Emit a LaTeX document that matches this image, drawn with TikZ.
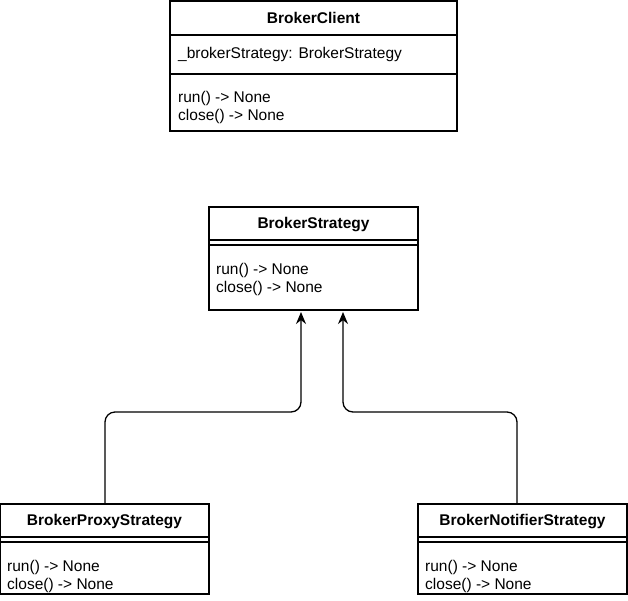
\documentclass[tikz,border=0pt]{standalone}
\usepackage{fontspec}
\setmainfont{Liberation Sans}
\usetikzlibrary{arrows.meta}
\begin{document}
\begin{tikzpicture}[x=1pt,y=-1pt,
  box/.style={draw,line width=1.3pt,fill=white},
  sep/.style={line width=1.3pt},
  title/.style={font=\fontsize{15.5}{18}\selectfont\bfseries,inner sep=0pt},
  member/.style={font=\fontsize{15.5}{18}\selectfont,align=left,anchor=north west,inner sep=0pt},
  conn/.style={line width=1.3pt,rounded corners=10pt,-{Stealth[length=12pt,width=10pt]}}]
\useasboundingbox (0,0) rectangle (628,600);
% BrokerClient
\draw[box] (170,1) rectangle (457,131);
\draw[sep] (170,35) -- (457,35);
\draw[sep] (170,74) -- (457,74);
\node[title] (bc) at (313.5,18) {BrokerClient};
\node[member] (bcattr) at (178,47) {\_brokerStrategy: BrokerStrategy};
\node[member] (bcm) at (178,91) {run() -> None\\close() -> None};
% BrokerStrategy
\draw[box] (209,207) rectangle (418,310);
\draw[sep] (209,240) -- (418,240);
\draw[sep] (209,245) -- (418,245);
\node[title] (bs) at (313.5,225) {BrokerStrategy};
\node[member] (bsm) at (216,263) {run() -> None\\close() -> None};
% BrokerProxyStrategy
\draw[box] (0,504) rectangle (209,594);
\draw[sep] (0,537) -- (209,537);
\draw[sep] (0,542) -- (209,542);
\node[title] (bp) at (104.5,522) {BrokerProxyStrategy};
\node[member] (bpm) at (7,560) {run() -> None\\close() -> None};
% BrokerNotifierStrategy
\draw[box] (418,504) rectangle (627,594);
\draw[sep] (418,537) -- (627,537);
\draw[sep] (418,542) -- (627,542);
\node[title] (bn) at (522.5,522) {BrokerNotifierStrategy};
\node[member] (bnm) at (425,560) {run() -> None\\close() -> None};
% connectors
\coordinate (p1) at (105,504);
\coordinate (t1) at (301,312);
\coordinate (p2) at (517,504);
\coordinate (t2) at (343,312);
\draw[conn] (p1) -- (105,412) -- (301,412) -- (t1);
\draw[conn] (p2) -- (517,412) -- (343,412) -- (t2);
\end{tikzpicture}
\end{document}
